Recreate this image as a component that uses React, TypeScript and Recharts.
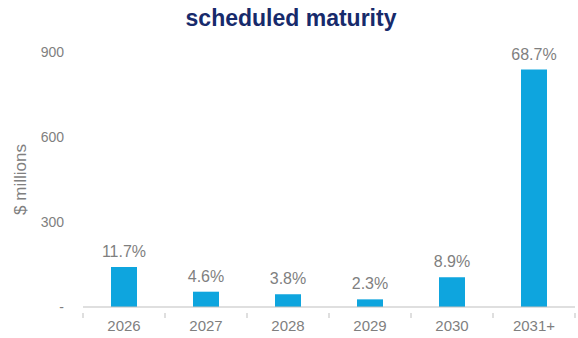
import { BarChart, Bar, XAxis, YAxis, LabelList, Label } from "recharts";

const years = ["2026", "2027", "2028", "2029", "2030", "2031+"];
const amounts = [141, 54, 45, 27, 105, 838];
const shares = ["11.7%", "4.6%", "3.8%", "2.3%", "8.9%", "68.7%"];
const yTicks = [0, 300, 600, 900];

const GREY = "#7f7f7f";
const BAR = "#0ea5de";
const AXIS = "#bfbfbf";

// category label plus Excel-style tick marks on the band edges
function YearTick(props: any) {
  const { x, y, payload, index } = props;
  const half = payload?.offset ?? 0;
  const last = index === years.length - 1;
  return (
    <g>
      <line x1={x - half} x2={x - half} y1={y - 6} y2={y - 1} stroke={AXIS} />
      {last && <line x1={x + half} x2={x + half} y1={y - 6} y2={y - 1} stroke={AXIS} />}
      <text x={x} y={y} dy={12} textAnchor="middle" fill={GREY} fontSize={15}>
        {payload.value}
      </text>
    </g>
  );
}

export default function App() {
  const data = years.map((year, i) => ({ year, amount: amounts[i], share: shares[i] }));

  return (
    <div style={{ position: "absolute", left: 0, top: 0, width: 578, height: 338, background: "#fff", fontFamily: "'Liberation Sans', Arial, sans-serif" }}>
      <div
        style={{
          position: "absolute",
          top: 7,
          left: 0,
          width: 582,
          textAlign: "center",
          fontSize: 23,
          lineHeight: "23px",
          fontWeight: 700,
          color: "#172a6b",
        }}
      >
        scheduled maturity
      </div>
      <BarChart
        width={578}
        height={338}
        data={data}
        margin={{ top: 52, right: 3, bottom: 0, left: 0 }}
        style={{ fontFamily: "'Liberation Sans', Arial, sans-serif" }}
      >
        <XAxis
          dataKey="year"
          height={31}
          tickLine={false}
          axisLine={{ stroke: AXIS }}
          tick={<YearTick />}
          tickMargin={6}
          interval={0}
        />
        <YAxis
          width={83}
          domain={[0, 900]}
          ticks={yTicks}
          axisLine={false}
          tickLine={false}
          tickMargin={13}
          tick={{ fill: GREY, fontSize: 14 }}
          tickFormatter={(v: number) => (v === 0 ? "-" : String(v))}
        >
          <Label value="$ millions" angle={-90} position="insideLeft" offset={20} fill={GREY} fontSize={17} style={{ textAnchor: "middle" }} />
        </YAxis>
        <Bar dataKey="amount" fill={BAR} barSize={26} isAnimationActive={false}>
          <LabelList dataKey="share" position="top" offset={10} fill={GREY} fontSize={16} />
        </Bar>
      </BarChart>
    </div>
  );
}
